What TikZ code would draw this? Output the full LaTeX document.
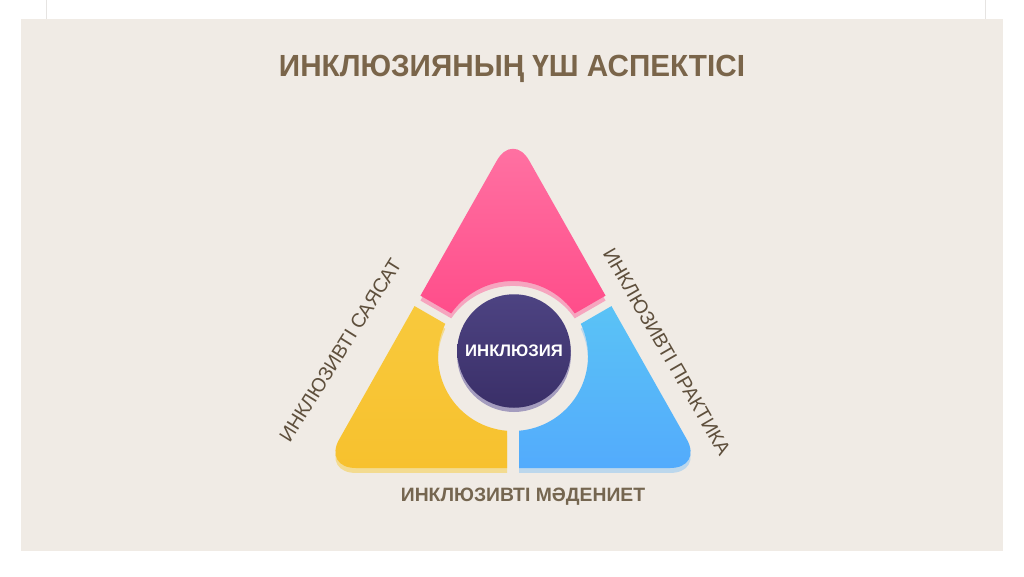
\documentclass[tikz,border=0pt]{standalone}
\usepackage{fontspec}
\setmainfont{Liberation Sans}
\usepackage{graphicx}
\usetikzlibrary{calc}
\usetikzlibrary{positioning}

\definecolor{panel}{HTML}{F0EBE5}
\definecolor{edgegray}{HTML}{E6E4E2}
\definecolor{titlebrown}{HTML}{7A654A}
\definecolor{labelbrown}{HTML}{5E4F3C}
\definecolor{culturebrown}{HTML}{756650}
\definecolor{pinkTop}{HTML}{FF74A4}
\definecolor{pinkBot}{HTML}{FF2C74}
\definecolor{pinkShd}{HTML}{F6A5BF}
\definecolor{yelTop}{HTML}{FAD24C}
\definecolor{yelBot}{HTML}{F7C12E}
\definecolor{yelShd}{HTML}{F3DB90}
\definecolor{bluTop}{HTML}{62DCEF}
\definecolor{bluBot}{HTML}{53ABFC}
\definecolor{bluShd}{HTML}{BCD7EC}
\definecolor{hubTop}{HTML}{4D4382}
\definecolor{hubBot}{HTML}{3A2F68}
\definecolor{hubShd}{HTML}{A49CBE}

\begin{document}
\begin{tikzpicture}[
  x=0.02cm, y=0.02cm,
  every node/.style={inner sep=0pt},
  tri/.style={rounded corners=18.7pt, insert path={(M) -- (BR) -- (T) -- (BL) -- cycle}},
  sector/.style={insert path={
    ($(C)+(#1+90:6)+(#1:74.8)$) -- ($(C)+(#1+90:6)+(#1:600)$) -- ($(C)+(#1+60:700)$)
    -- ($(C)+(#1+30:6)+(#1+120:600)$) -- ($(C)+(#1+30:6)+(#1+120:74.8)$)
    arc[start angle=#1+115.4, end angle=#1+4.6, radius=75] -- cycle}},
  title text/.style={text=titlebrown, font=\fontsize{17.4}{20}\selectfont\bfseries},
  side text/.style={text=labelbrown, font=\fontsize{11.2}{13}\selectfont},
  culture text/.style={text=culturebrown, font=\fontsize{11}{13}\selectfont\bfseries},
  hub/.style={circle, minimum size=64.6pt, top color=hubTop, bottom color=hubBot,
    text=white, font=\fontsize{9.5}{11}\selectfont\bfseries}
  ]
	\useasboundingbox (0,0) rectangle (1024,576);
	\fill[white] (0,0) rectangle (1024,576);
	\fill[panel] (21,25) rectangle (1003,557);
	\draw[edgegray] (46,557) -- (46,576);
	\draw[edgegray] (985,557) -- (985,576);

	\coordinate (T) at (513,444);
	\coordinate (BL) at (323,108);
	\coordinate (BR) at (703,108);
	\coordinate (M) at (513,108);
	\coordinate (C) at (513,220);

	% three parts of the triangle, each with a light lower edge
	\foreach \a/\ctop/\cbot/\cshd in {30/pinkTop/pinkBot/pinkShd, 150/yelTop/yelBot/yelShd, 270/bluTop/bluBot/bluShd}{
		\begin{scope}[transform canvas={yshift=-2.8pt}]
			\clip[sector=\a];
			\fill[fill=\cshd, tri];
		\end{scope}
		\begin{scope}
			\clip[sector=\a];
			\shade[top color=\ctop, bottom color=\cbot, tri];
		\end{scope}
	}

	\fill[hubShd] (514,221) circle[radius=57];
	\node[hub] (hub) at (514,225) {ИНКЛЮЗИЯ};

	\node[title text] (title) at (512,507) {\scalebox{0.97}[1]{ИНКЛЮЗИЯНЫҢ ҮШ АСПЕКТІСІ}};
	\node[side text, rotate=58, anchor=base] (policy) at (346,222) {ИНКЛЮЗИВТІ САЯСАТ};
	\node[side text, rotate=-60, anchor=base] (practice) at (661,221) {ИНКЛЮЗИВТІ ПРАКТИКА};
	\node[culture text] (culture) at (523,79) {ИНКЛЮЗИВТІ МӘДЕНИЕТ};
\end{tikzpicture}
\end{document}
